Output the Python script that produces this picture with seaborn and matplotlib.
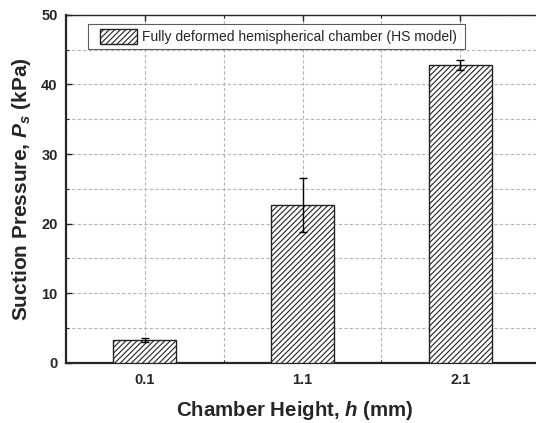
import matplotlib
matplotlib.use("Agg")
import matplotlib.pyplot as plt
from matplotlib.ticker import MultipleLocator, FixedLocator
from matplotlib.patches import Patch
from matplotlib.legend_handler import HandlerPatch
import seaborn as sns
import pandas as pd

heights = ["0.1", "1.1", "2.1"]
pressures = [3.3, 22.7, 42.8]
errors = [0.35, 3.9, 0.7]
legend_label = "Fully deformed hemispherical chamber (HS model)"

sns.set_style("ticks")
plt.rcParams['font.family'] = ['Liberation Sans', 'DejaVu Sans']
plt.rcParams['mathtext.fontset'] = 'custom'
plt.rcParams['mathtext.it'] = 'Liberation Sans:italic:bold'
plt.rcParams['mathtext.rm'] = 'Liberation Sans:bold'
plt.rcParams['mathtext.bf'] = 'Liberation Sans:bold'
plt.rcParams['hatch.linewidth'] = 0.8

df = pd.DataFrame({"h": heights, "p": pressures})

fig = plt.figure(figsize=(5.36, 4.23), dpi=100)
ax = fig.add_axes([0.123, 0.142, 0.877, 0.823])

sns.barplot(data=df, x="h", y="p", color="white", edgecolor="#222222",
            linewidth=1.0, width=0.4, ax=ax, zorder=3)
for patch in ax.patches:
    patch.set_hatch("//////")
    patch.set_facecolor("white")

ax.errorbar(range(len(heights)), pressures, yerr=errors, fmt="none",
            ecolor="black", elinewidth=1.0, capsize=3, capthick=1.0, zorder=4)

ax.set_xlim(-0.5, 2.48)
ax.set_ylim(0, 50)
ax.yaxis.set_major_locator(MultipleLocator(10))
ax.yaxis.set_minor_locator(MultipleLocator(5))
ax.xaxis.set_minor_locator(FixedLocator([-0.5, 0.5, 1.5, 2.5]))

ax.grid(True, which="both", axis="both", color="#b5b5b5", linestyle=(0, (3, 2)),
        linewidth=0.8, zorder=0)
ax.set_axisbelow(True)

ax.tick_params(axis="both", which="both", direction="in", top=True, right=False)
ax.tick_params(axis="both", which="major", length=4, width=1.0, labelsize=10.5)
ax.tick_params(axis="x", which="major", pad=7)
ax.tick_params(axis="y", which="major", pad=6)
ax.tick_params(axis="both", which="minor", length=2.5, width=0.8)
for lab in ax.get_xticklabels() + ax.get_yticklabels():
    lab.set_fontweight("bold")

for side in ["left", "bottom"]:
    ax.spines[side].set_linewidth(1.6)
ax.spines["top"].set_linewidth(1.0)
ax.spines["right"].set_visible(False)

ax.set_xlabel("Chamber Height, $h$ (mm)", fontsize=14.7, fontweight="bold",
              labelpad=9, x=0.487)
ax.set_ylabel("Suction Pressure, $P_s$ (kPa)", fontsize=15, fontweight="bold", labelpad=6)

handle = Patch(facecolor="white", edgecolor="#222222", hatch="//////", linewidth=1.0)
leg = ax.legend([handle], [legend_label + " "], loc="upper left",
                bbox_to_anchor=(0.047, 0.974), borderaxespad=0, fontsize=10,
                frameon=True, fancybox=False, edgecolor="#333333",
                handlelength=3.17, handleheight=1.3, borderpad=0.35,
                handletextpad=0.35,
                handler_map={Patch: HandlerPatch(xpad=0.5)})
leg.get_frame().set_linewidth(0.8)

fig.savefig("out.png", dpi=100)
